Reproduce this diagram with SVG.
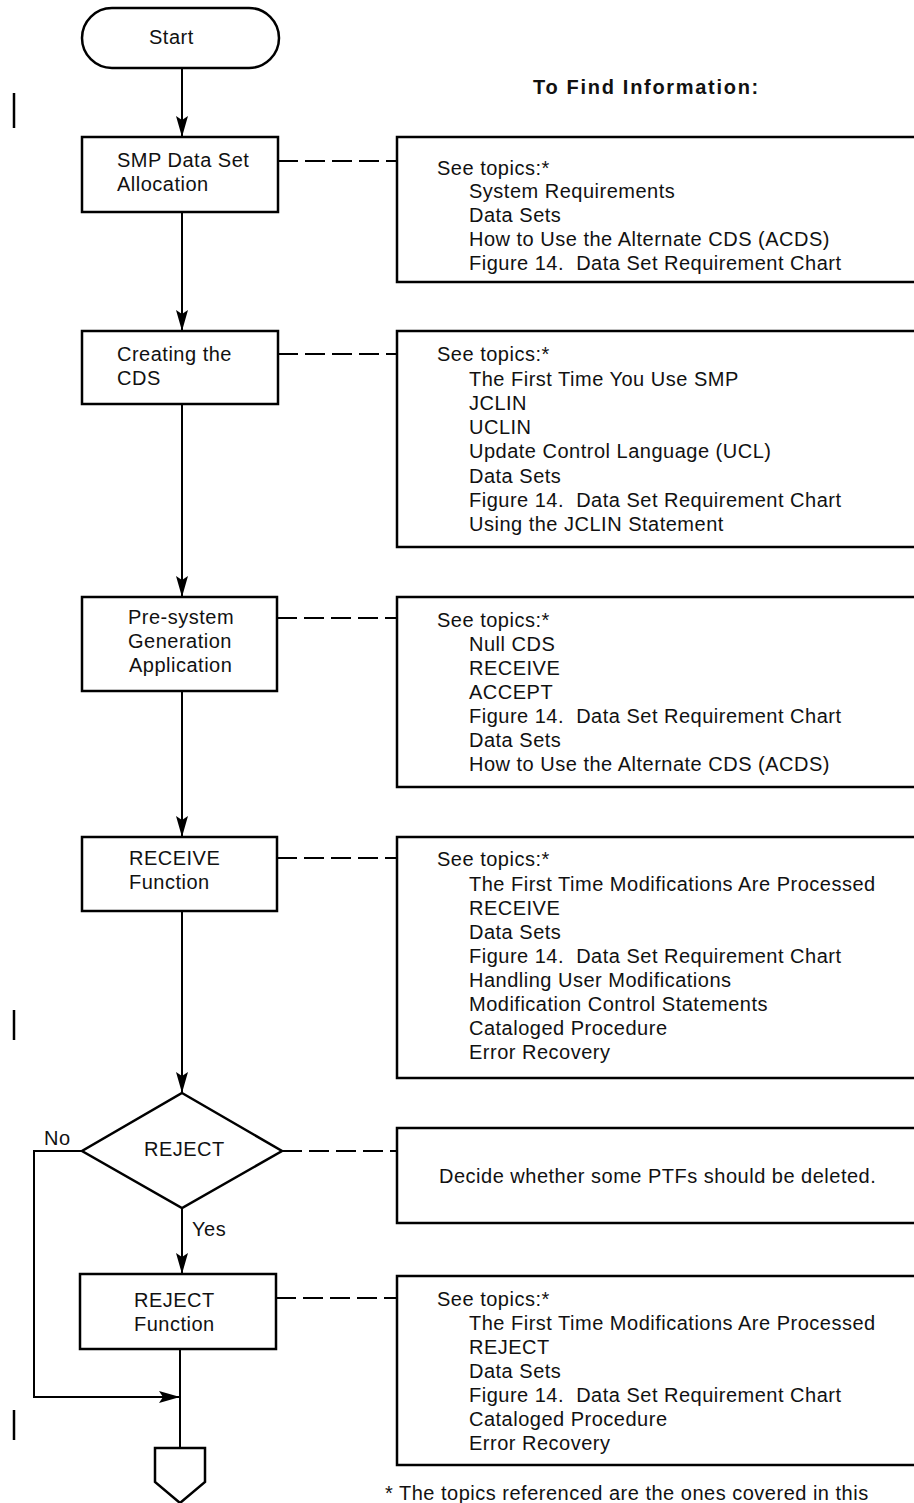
<svg xmlns="http://www.w3.org/2000/svg" width="914" height="1503" viewBox="0 0 914 1503">
  <defs>
    <style>
      .shape { fill: #fff; stroke: #000; stroke-width: 2.5; }
      .flow { fill: none; stroke: #000; stroke-width: 2; }
      .dash { fill: none; stroke: #000; stroke-width: 1.8; stroke-dasharray: 20 7; }
      .bar { stroke: #000; stroke-width: 2.5; }
      text { font-family: "Liberation Sans", Arial, Helvetica, sans-serif; font-size: 20px; fill: #111; letter-spacing: 0.5px; white-space: pre; }
      .title { font-weight: bold; letter-spacing: 1.7px; }
    </style>
    <marker id="arrow" viewBox="0 0 22 14" markerWidth="22" markerHeight="14" refX="21" refY="7" orient="auto" markerUnits="userSpaceOnUse">
      <path d="M0,1 L21,7 L0,13 L4,7 z" fill="#000"/>
    </marker>
  </defs>

  <rect width="914" height="1503" fill="#fff"/>

  <!-- revision bars in the left margin -->
  <g id="revision-bars">
    <line class="bar" x1="14" y1="93" x2="14" y2="128"/>
    <line class="bar" x1="14" y1="1010" x2="14" y2="1040"/>
    <line class="bar" x1="14" y1="1410" x2="14" y2="1440"/>
  </g>

  <text class="title" x="533" y="94">To Find Information:</text>

  <!-- connectors -->
  <g id="connectors">
    <line class="flow" x1="182" y1="68" x2="182" y2="137" marker-end="url(#arrow)"/>
    <line class="flow" x1="182" y1="212" x2="182" y2="331" marker-end="url(#arrow)"/>
    <line class="flow" x1="182" y1="404" x2="182" y2="597" marker-end="url(#arrow)"/>
    <line class="flow" x1="182" y1="691" x2="182" y2="837" marker-end="url(#arrow)"/>
    <line class="flow" x1="182" y1="911" x2="182" y2="1093" marker-end="url(#arrow)"/>
    <line class="flow" x1="182" y1="1208" x2="182" y2="1274" marker-end="url(#arrow)"/>
    <polyline class="flow" points="82,1151 34,1151 34,1397 180,1397" marker-end="url(#arrow)"/>
    <line class="flow" x1="180" y1="1349" x2="180" y2="1448"/>

    <line class="dash" x1="278" y1="161" x2="397" y2="161"/>
    <line class="dash" x1="278" y1="354" x2="397" y2="354"/>
    <line class="dash" x1="277" y1="618" x2="397" y2="618"/>
    <line class="dash" x1="277" y1="858" x2="397" y2="858"/>
    <line class="dash" x1="282" y1="1151" x2="397" y2="1151"/>
    <line class="dash" x1="276" y1="1298" x2="397" y2="1298"/>

    <text x="44" y="1145">No</text>
    <text x="192" y="1236">Yes</text>
  </g>

  <!-- flowchart steps -->
  <g id="start">
    <rect class="shape" x="82" y="8" width="197" height="60" rx="30" ry="30"/>
    <text x="149" y="44">Start</text>
  </g>

  <g id="allocation">
    <rect class="shape" x="82" y="137" width="196" height="75"/>
    <text x="117" y="167">SMP Data Set</text>
    <text x="117" y="191">Allocation</text>
  </g>

  <g id="create-cds">
    <rect class="shape" x="82" y="331" width="196" height="73"/>
    <text x="117" y="361">Creating the</text>
    <text x="117" y="385">CDS</text>
  </g>

  <g id="pre-sysgen">
    <rect class="shape" x="82" y="597" width="195" height="94"/>
    <text x="128" y="624">Pre-system</text>
    <text x="128" y="648">Generation</text>
    <text x="129" y="672">Application</text>
  </g>

  <g id="receive">
    <rect class="shape" x="82" y="837" width="195" height="74"/>
    <text x="129" y="865">RECEIVE</text>
    <text x="129" y="889">Function</text>
  </g>

  <g id="reject-decision">
    <polygon class="shape" points="182,1093 282,1151 182,1208 82,1151"/>
    <text x="144" y="1156">REJECT</text>
  </g>

  <g id="reject">
    <rect class="shape" x="80" y="1274" width="196" height="75"/>
    <text x="134" y="1307">REJECT</text>
    <text x="134" y="1331">Function</text>
  </g>

  <g id="offpage">
    <polygon class="shape" points="155,1448 205,1448 205,1482 180,1503 155,1482"/>
  </g>

  <!-- reference boxes -->
  <g id="info-allocation">
    <rect class="shape" x="397" y="137" width="540" height="145"/>
    <text x="437" y="175">See topics:*</text>
    <text x="469" y="198">System Requirements</text>
    <text x="469" y="222">Data Sets</text>
    <text x="469" y="246">How to Use the Alternate CDS (ACDS)</text>
    <text x="469" y="270">Figure 14.  Data Set Requirement Chart</text>
  </g>

  <g id="info-create-cds">
    <rect class="shape" x="397" y="331" width="540" height="216"/>
    <text x="437" y="361">See topics:*</text>
    <text x="469" y="386">The First Time You Use SMP</text>
    <text x="469" y="410">JCLIN</text>
    <text x="469" y="434">UCLIN</text>
    <text x="469" y="458">Update Control Language (UCL)</text>
    <text x="469" y="483">Data Sets</text>
    <text x="469" y="507">Figure 14.  Data Set Requirement Chart</text>
    <text x="469" y="531">Using the JCLIN Statement</text>
  </g>

  <g id="info-pre-sysgen">
    <rect class="shape" x="397" y="597" width="540" height="190"/>
    <text x="437" y="627">See topics:*</text>
    <text x="469" y="651">Null CDS</text>
    <text x="469" y="675">RECEIVE</text>
    <text x="469" y="699">ACCEPT</text>
    <text x="469" y="723">Figure 14.  Data Set Requirement Chart</text>
    <text x="469" y="747">Data Sets</text>
    <text x="469" y="771">How to Use the Alternate CDS (ACDS)</text>
  </g>

  <g id="info-receive">
    <rect class="shape" x="397" y="837" width="540" height="241"/>
    <text x="437" y="866">See topics:*</text>
    <text x="469" y="891">The First Time Modifications Are Processed</text>
    <text x="469" y="915">RECEIVE</text>
    <text x="469" y="939">Data Sets</text>
    <text x="469" y="963">Figure 14.  Data Set Requirement Chart</text>
    <text x="469" y="987">Handling User Modifications</text>
    <text x="469" y="1011">Modification Control Statements</text>
    <text x="469" y="1035">Cataloged Procedure</text>
    <text x="469" y="1059">Error Recovery</text>
  </g>

  <g id="info-reject-decision">
    <rect class="shape" x="397" y="1128" width="540" height="95"/>
    <text x="439" y="1183">Decide whether some PTFs should be deleted.</text>
  </g>

  <g id="info-reject">
    <rect class="shape" x="397" y="1276" width="540" height="189"/>
    <text x="437" y="1306">See topics:*</text>
    <text x="469" y="1330">The First Time Modifications Are Processed</text>
    <text x="469" y="1354">REJECT</text>
    <text x="469" y="1378">Data Sets</text>
    <text x="469" y="1402">Figure 14.  Data Set Requirement Chart</text>
    <text x="469" y="1426">Cataloged Procedure</text>
    <text x="469" y="1450">Error Recovery</text>
  </g>

  <text x="385" y="1500">* The topics referenced are the ones covered in this</text>
</svg>
